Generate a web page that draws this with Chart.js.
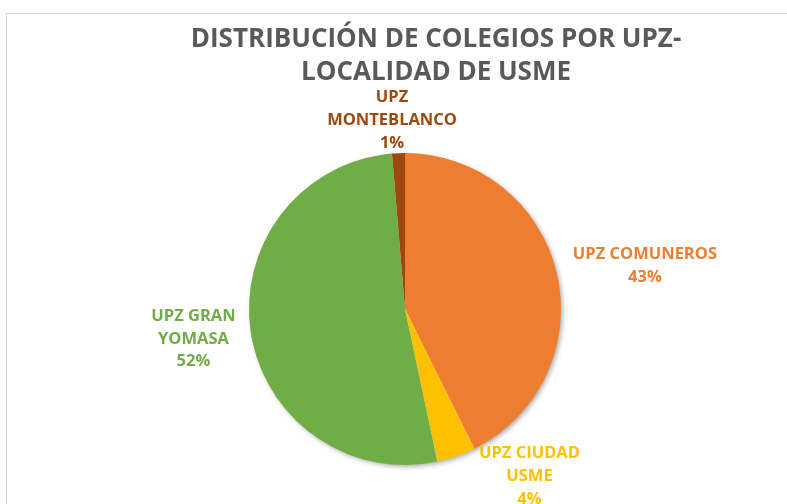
<!DOCTYPE html>
<html>
<head>
<meta charset="utf-8">
<script src="https://cdn.jsdelivr.net/npm/chart.js@4"></script>
<style>
  html, body { margin: 0; padding: 0; background: #ffffff; overflow: hidden; width: 787px; height: 504px; }
  #frame { position: absolute; left: 6px; top: 13px; width: 858px; height: 500px; border: 1px solid #d9d9d9; background: #fff; }
  canvas { display: block; }
</style>
</head>
<body>
<div id="frame"><canvas id="c" width="858" height="490"></canvas></div>
<script>
// ---- data ----
const categories = ["UPZ COMUNEROS", "UPZ CIUDAD USME", "UPZ GRAN YOMASA", "UPZ MONTEBLANCO"];
const labelLines = [["UPZ COMUNEROS"], ["UPZ CIUDAD", "USME"], ["UPZ GRAN", "YOMASA"], ["UPZ", "MONTEBLANCO"]];
const colegios = [32, 3, 39, 1];
const sliceColors = ["#ED7D31", "#FFC000", "#70AD47", "#9E480E"];
const titleLines = ["DISTRIBUCIÓN DE COLEGIOS POR UPZ-", "LOCALIDAD DE USME"];

// label placement relative to pie centre, in units of the radius
const labelOffsets = [[1.538, -0.276], [0.798, 1.071], [-1.356, 0.192], [-0.083, -1.208]];

const FONT = "'Open Sans', 'DejaVu Sans', sans-serif";

const shadowPlugin = {
  id: 'pieShadow',
  beforeDatasetsDraw(chart) {
    const arc = chart.getDatasetMeta(0).data[0];
    if (!arc) return;
    const ctx = chart.ctx;
    ctx.save();
    ctx.shadowColor = 'rgba(0,0,0,0.35)';
    ctx.shadowBlur = 5;
    ctx.shadowOffsetX = 2;
    ctx.shadowOffsetY = 2;
    ctx.fillStyle = '#ffffff';
    ctx.beginPath();
    ctx.arc(arc.x, arc.y, arc.outerRadius - 0.5, 0, Math.PI * 2);
    ctx.fill();
    ctx.restore();
  }
};

const labelPlugin = {
  id: 'outsideLabels',
  afterDatasetsDraw(chart) {
    const meta = chart.getDatasetMeta(0);
    const data = chart.data.datasets[0].data;
    const total = data.reduce((a, b) => a + b, 0);
    const ctx = chart.ctx;
    const lineH = 22.8;
    ctx.save();
    ctx.font = "bold 16.5px " + FONT;
    ctx.textAlign = 'center';
    ctx.textBaseline = 'middle';
    meta.data.forEach((arc, i) => {
      const r = arc.outerRadius;
      const cx = arc.x + labelOffsets[i][0] * r;
      const cy = arc.y + labelOffsets[i][1] * r;
      const lines = labelLines[i].concat([Math.round(data[i] / total * 100) + "%"]);
      const startY = cy - (lines.length - 1) * lineH / 2;
      ctx.fillStyle = sliceColors[i];
      lines.forEach((t, k) => ctx.fillText(t, cx, startY + k * lineH));
    });
    ctx.restore();
  }
};

const titlePlugin = {
  id: 'wideTitle',
  afterDraw(chart) {
    const ctx = chart.ctx;
    ctx.save();
    ctx.font = "bold 26px " + FONT;
    ctx.fillStyle = '#595959';
    ctx.textAlign = 'center';
    ctx.textBaseline = 'alphabetic';
    titleLines.forEach((t, k) => ctx.fillText(t, chart.width / 2, 33 + k * 33));
    ctx.restore();
  }
};

new Chart(document.getElementById('c'), {
  type: 'pie',
  data: {
    labels: categories,
    datasets: [{
      data: colegios,
      backgroundColor: sliceColors,
      borderWidth: 0,
      hoverOffset: 0,
      offset: 0
    }]
  },
  options: {
    responsive: false,
    animation: false,
    devicePixelRatio: 1,
    radius: 156,
    layout: { padding: { left: 0, right: 62, top: 139, bottom: 39 } },
    plugins: {
      legend: { display: false },
      tooltip: { enabled: false },
      title: { display: false }
    }
  },
  plugins: [shadowPlugin, labelPlugin, titlePlugin]
});
</script>
</body>
</html>
